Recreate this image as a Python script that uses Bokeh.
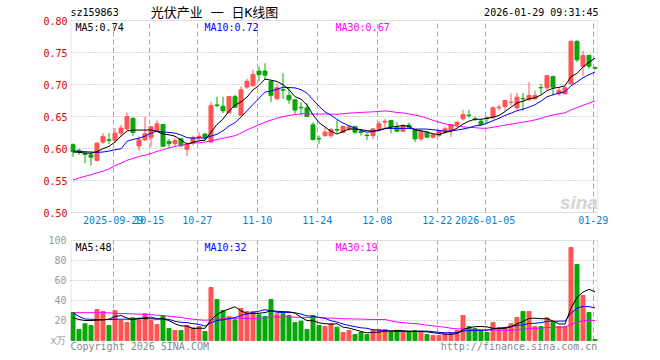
from bokeh.plotting import figure
from bokeh.models import Range1d, FixedTicker, PrintfTickFormatter, Label, BoxAnnotation, Grid
from bokeh.layouts import column
from bokeh.embed import file_html
from bokeh.resources import INLINE

# ---------------- data ----------------
stock_code = "sz159863"
chart_title = "光伏产业 一 日K线图"
timestamp = "2026-01-29 09:31:45"

opens = [0.606, 0.597, 0.592, 0.590, 0.5813, 0.610, 0.6135, 0.6125, 0.624, 0.6305,
         0.647, 0.604, 0.6135, 0.617, 0.628, 0.6375, 0.611, 0.6075, 0.615, 0.5985,
         0.6085, 0.617, 0.6225, 0.610, 0.668, 0.666, 0.6557, 0.681, 0.652, 0.696,
         0.698, 0.721, 0.721, 0.705, 0.6776, 0.692, 0.683, 0.676, 0.6645, 0.6635,
         0.637, 0.6155, 0.6203, 0.620, 0.6297, 0.625, 0.6302, 0.6344, 0.627, 0.621,
         0.620, 0.6307, 0.6412, 0.6437, 0.6333, 0.6271, 0.6365, 0.6292, 0.615, 0.6255,
         0.6177, 0.6203, 0.6255, 0.6281, 0.6375, 0.6464, 0.6521, 0.6464, 0.6427, 0.648,
         0.6479, 0.6635, 0.6656, 0.672, 0.6635, 0.6781, 0.676, 0.6776, 0.6953, 0.6948,
         0.7125, 0.6854, 0.6854, 0.701, 0.7672, 0.728, 0.7453, 0.7266]
highs = [0.608, 0.600, 0.594, 0.5953, 0.610, 0.624, 0.624, 0.632, 0.637, 0.6565,
         0.649, 0.619, 0.650, 0.635, 0.644, 0.6385, 0.615, 0.617, 0.617, 0.609,
         0.620, 0.6255, 0.624, 0.673, 0.681, 0.681, 0.6813, 0.684, 0.697, 0.709,
         0.723, 0.728, 0.7333, 0.706, 0.702, 0.7177, 0.6958, 0.6776, 0.6724, 0.6708,
         0.641, 0.6203, 0.632, 0.632, 0.644, 0.636, 0.636, 0.6355, 0.6297, 0.6229,
         0.6307, 0.6427, 0.6464, 0.6448, 0.641, 0.6385, 0.6406, 0.6297, 0.6281, 0.6271,
         0.623, 0.6281, 0.634, 0.6385, 0.6427, 0.6604, 0.6604, 0.650, 0.6464, 0.650,
         0.6656, 0.6687, 0.676, 0.6859, 0.6865, 0.6865, 0.7036, 0.6906, 0.701, 0.714,
         0.714, 0.6958, 0.6974, 0.7698, 0.7698, 0.753, 0.7469, 0.728]
lows = [0.587, 0.590, 0.577, 0.5734, 0.580, 0.607, 0.607, 0.610, 0.619, 0.629,
        0.619, 0.596, 0.612, 0.603, 0.627, 0.602, 0.602, 0.6035, 0.602, 0.588,
        0.605, 0.6125, 0.6125, 0.609, 0.6646, 0.6555, 0.655, 0.6635, 0.650, 0.693,
        0.697, 0.705, 0.7073, 0.6724, 0.676, 0.6776, 0.6698, 0.6542, 0.6516, 0.6495,
        0.6125, 0.6073, 0.618, 0.616, 0.6245, 0.624, 0.6276, 0.6224, 0.620, 0.6135,
        0.6146, 0.6297, 0.6307, 0.6234, 0.6255, 0.6255, 0.6307, 0.610, 0.6115, 0.6161,
        0.615, 0.618, 0.6229, 0.618, 0.6333, 0.6437, 0.6479, 0.6427, 0.636, 0.6396,
        0.6464, 0.6594, 0.6594, 0.667, 0.6594, 0.659, 0.675, 0.676, 0.6844, 0.6917,
        0.6828, 0.6823, 0.6844, 0.700, 0.735, 0.714, 0.7245, 0.7229]
closes = [0.595, 0.595, 0.5905, 0.5865, 0.6083, 0.619, 0.6125, 0.624, 0.632, 0.650,
          0.625, 0.6135, 0.623, 0.634, 0.6385, 0.6036, 0.6075, 0.6125, 0.6045, 0.607,
          0.617, 0.619, 0.6175, 0.667, 0.667, 0.659, 0.6813, 0.6646, 0.6917, 0.705,
          0.7156, 0.7156, 0.7146, 0.683, 0.6948, 0.691, 0.676, 0.660, 0.6635, 0.650,
          0.614, 0.615, 0.6255, 0.6297, 0.6286, 0.6344, 0.6339, 0.6255, 0.625, 0.6203,
          0.6307, 0.6385, 0.6427, 0.6344, 0.6271, 0.636, 0.6333, 0.615, 0.6271, 0.6177,
          0.6214, 0.6281, 0.6307, 0.6375, 0.641, 0.6531, 0.6516, 0.6453, 0.6375, 0.6474,
          0.6635, 0.6646, 0.675, 0.6724, 0.6802, 0.6776, 0.6828, 0.6828, 0.6948, 0.714,
          0.6958, 0.6906, 0.6948, 0.7672, 0.7385, 0.7453, 0.7286, 0.7255]
volumes = [28, 11, 16.7, 15, 31, 29, 15, 30, 20, 18,
           22.7, 21.3, 26.7, 20, 16, 25, 12, 10, 10, 15,
           12.7, 14, 9, 53, 41, 30, 24, 20.7, 32, 29,
           29, 25.7, 24, 41, 26.7, 26.7, 25, 18, 19.3, 11,
           25, 15, 14, 16.7, 13.3, 8, 10, 6, 8, 6,
           10.7, 11, 11, 9, 9, 9, 9, 10, 9, 6,
           5, 5, 6.7, 8, 10, 25, 14, 12, 9, 8,
           18, 13, 13, 16.7, 23, 29, 29, 14, 14, 22.7,
           18, 14, 14, 93, 76, 45, 28, 1]

# moving-average values before enough visible days exist
ma5_head = [0.5945, 0.594, 0.593, 0.5925]
ma10_head = [0.596, 0.5955, 0.595, 0.5945, 0.594, 0.5945, 0.596, 0.598, 0.5995]
ma30_head = [0.5505, 0.554, 0.5565, 0.559, 0.562, 0.5645, 0.568, 0.5735, 0.577, 0.5815,
             0.5845, 0.5875, 0.5895, 0.592, 0.5955, 0.598, 0.601, 0.603, 0.605, 0.607,
             0.6085, 0.609, 0.610, 0.612, 0.614, 0.616, 0.618, 0.620, 0.624]
vma5_head = [22.7, 21, 20, 20]
vma10_head = [28, 24, 21.5, 21.2, 21, 21, 21, 21.2, 21.3]
vma30_head = [27.8, 27.8, 27.8, 27.8, 27.8, 27.8, 27.7, 27.3, 27, 26.8,
              26.5, 26.3, 26.2, 25.8, 25.3, 25, 24.3, 23.7, 23, 22,
              21.3, 20.7, 20.3, 20.7, 21.3, 21.7, 22, 22.2, 22.3]

date_tick_index = [7, 13, 21, 31, 41, 51, 61, 69, 87]
date_tick_labels = ["2025-09-29", "10-15", "10-27", "11-10", "11-24",
                    "12-08", "12-22", "2026-01-05", "01-29"]
price_ticks = [0.50, 0.55, 0.60, 0.65, 0.70, 0.75, 0.80]
price_grid = [0.55, 0.60, 0.65, 0.70, 0.75]
volume_ticks = [0, 20, 40, 60, 80, 100]
volume_grid = [20, 40, 60, 80]
volume_unit = "x万"

ma_price_labels = ["MA5:0.74", "MA10:0.72", "MA30:0.67"]
ma_volume_labels = ["MA5:48", "MA10:32", "MA30:19"]
footer_left = "Copyright 2026 SINA.COM"
footer_right = "http://finance.sina.com.cn"

# ---------------- derived ----------------
def moving_average(vals, n, head):
    out = list(head)
    for i in range(len(head), len(vals)):
        out.append(sum(vals[i - n + 1:i + 1]) / n)
    return out

N = len(closes)
xs = list(range(N))
RED = "#ff5555"
GREEN = "#07a807"
colors = [RED if c >= o else GREEN for o, c in zip(opens, closes)]
body_top = [max(o, c) for o, c in zip(opens, closes)]
body_bot = [min(o, c) for o, c in zip(opens, closes)]

ma5 = moving_average(closes, 5, ma5_head)
ma10 = moving_average(closes, 10, ma10_head)
ma30 = moving_average(closes, 30, ma30_head)
vma5 = moving_average(volumes, 5, vma5_head)
vma10 = moving_average(volumes, 10, vma10_head)
vma30 = moving_average(volumes, 30, vma30_head)

grid_pos = [i - 0.3 for i in date_tick_index]
MONO = "DejaVu Sans Mono"
PX = 1.0 / 6.0                     # one pixel in index units
X0, X1 = -2.5 * PX, N - 0.5 + 0.5 * PX     # plotting range (x pixels 70..598)
BOX_L, BOX_R = X0 + 0.5 * PX, X1 - 0.5 * PX
GRID_COLOR = "#aaaaaa"
FRAME_COLOR = "#999999"
HAS_CROSS = "cross_bounds" in Grid.properties()

def style(p, lo, hi):
    p.outline_line_color = None
    p.background_fill_color = "white"
    p.border_fill_color = "white"
    p.xgrid.ticker = FixedTicker(ticks=grid_pos)
    p.xgrid.grid_line_color = GRID_COLOR
    p.xgrid.grid_line_dash = "5 3"
    if HAS_CROSS:
        p.xgrid.cross_bounds = (lo, hi)
    else:
        p.xgrid.grid_line_color = None
        p.segment(x0=grid_pos, y0=[lo] * len(grid_pos), x1=grid_pos, y1=[hi] * len(grid_pos),
                  line_color=GRID_COLOR, line_dash="5 3", line_width=1, level="underlay")
    p.ygrid.grid_line_color = GRID_COLOR
    p.ygrid.grid_line_dash = "1 2"
    p.add_layout(BoxAnnotation(left=BOX_L, right=BOX_R, bottom=lo, top=hi,
                               fill_color=None, fill_alpha=0, line_color=FRAME_COLOR,
                               line_width=1, level="underlay"))
    for ax in p.axis:
        ax.axis_line_color = None
        ax.major_tick_line_color = None
        ax.minor_tick_line_color = None
        ax.major_tick_out = 0
        ax.major_tick_in = 0
        ax.minor_tick_out = 0
        ax.major_label_text_font = MONO
        ax.major_label_text_font_size = "10px"

def lab(p, x, y, text, color="#000000", align="left", font=MONO, size="10px", style_="normal"):
    p.add_layout(Label(x=x, y=y, text=text, text_color=color, text_align=align,
                       text_baseline="middle", text_font=font, text_font_size=size,
                       text_font_style=style_))

# ---------------- price panel ----------------
# frame covers y pixels 0..213; 0.80 at y=20, 0.50 at y=212 (640 px per unit)
p1 = figure(width=660, height=232, output_backend="svg", toolbar_location=None,
            x_range=Range1d(X0, X1), y_range=Range1d(0.50 - 1 / 640, 0.80 + 20 / 640),
            min_border_left=70, min_border_right=62, min_border_top=0, min_border_bottom=19)
style(p1, 0.50, 0.80)
p1.ygrid.ticker = FixedTicker(ticks=price_grid)
p1.yaxis.ticker = FixedTicker(ticks=price_ticks)
p1.yaxis.formatter = PrintfTickFormatter(format="%.2f")
p1.yaxis.major_label_text_color = "#e00000"
p1.yaxis.major_label_standoff = 3
p1.xaxis.ticker = FixedTicker(ticks=grid_pos)
p1.xaxis.major_label_overrides = {g: t for g, t in zip(grid_pos, date_tick_labels)}
p1.xaxis.major_label_text_color = "#0a7fd0"
p1.xaxis.major_label_standoff = 2

p1.segment(x0=xs, y0=lows, x1=xs, y1=highs, color=colors, line_width=1)
p1.vbar(x=xs, width=0.667, top=body_top, bottom=body_bot,
        fill_color=colors, line_color=colors, line_width=1)
p1.line(xs, ma30, color="#ff00ff", line_width=1)
p1.line(xs, ma10, color="#0000ff", line_width=1)
p1.line(xs, ma5, color="#000000", line_width=1)

TOP_Y = 0.80 + 8 / 640
lab(p1, X0, TOP_Y, stock_code)
lab(p1, 23.6, TOP_Y, chart_title, align="center",
    font="DejaVu Sans Mono, Noto Sans CJK SC", size="13px")
lab(p1, X1, TOP_Y, timestamp, align="right")
MA_Y = 0.80 - 7 / 640
lab(p1, 0.42, MA_Y, ma_price_labels[0], "#000000")
lab(p1, 21.9, MA_Y, ma_price_labels[1], "#0000ff")
lab(p1, 43.75, MA_Y, ma_price_labels[2], "#ff00ff")
p1.add_layout(Label(x=X1 - 0.1, y=0.515, text="sina", text_color="#d4d4d4",
                    text_align="right", text_baseline="alphabetic",
                    text_font="Liberation Sans", text_font_size="19px",
                    text_font_style="bold italic"))

# ---------------- volume panel ----------------
# frame covers y pixels 239..360; 100 at y=240, 0 at y=340
p2 = figure(width=660, height=128, output_backend="svg", toolbar_location=None,
            x_range=Range1d(X0, X1), y_range=Range1d(-20, 101),
            min_border_left=70, min_border_right=62, min_border_top=7, min_border_bottom=0)
style(p2, 0, 100)
p2.xaxis.visible = False
p2.ygrid.ticker = FixedTicker(ticks=volume_grid)
p2.yaxis.ticker = FixedTicker(ticks=volume_ticks)
p2.yaxis.major_label_overrides = {0: volume_unit}
p2.yaxis.major_label_text_color = "#999999"
p2.yaxis.major_label_standoff = 4

p2.vbar(x=xs, width=0.667, top=volumes, bottom=0,
        fill_color=colors, line_color=colors, line_width=1)
p2.line(xs, vma30, color="#ff00ff", line_width=1)
p2.line(xs, vma10, color="#0000ff", line_width=1)
p2.line(xs, vma5, color="#000000", line_width=1)

VMA_Y = 93
lab(p2, 0.42, VMA_Y, ma_volume_labels[0], "#000000")
lab(p2, 21.9, VMA_Y, ma_volume_labels[1], "#0000ff")
lab(p2, 43.75, VMA_Y, ma_volume_labels[2], "#ff00ff")
lab(p2, X0, -6, footer_left, "#888888")
lab(p2, X1 - 0.2, -6, footer_right, "#888888", align="right")

layout = column(p1, p2)
open("out.html", "w").write(file_html(layout, INLINE))
